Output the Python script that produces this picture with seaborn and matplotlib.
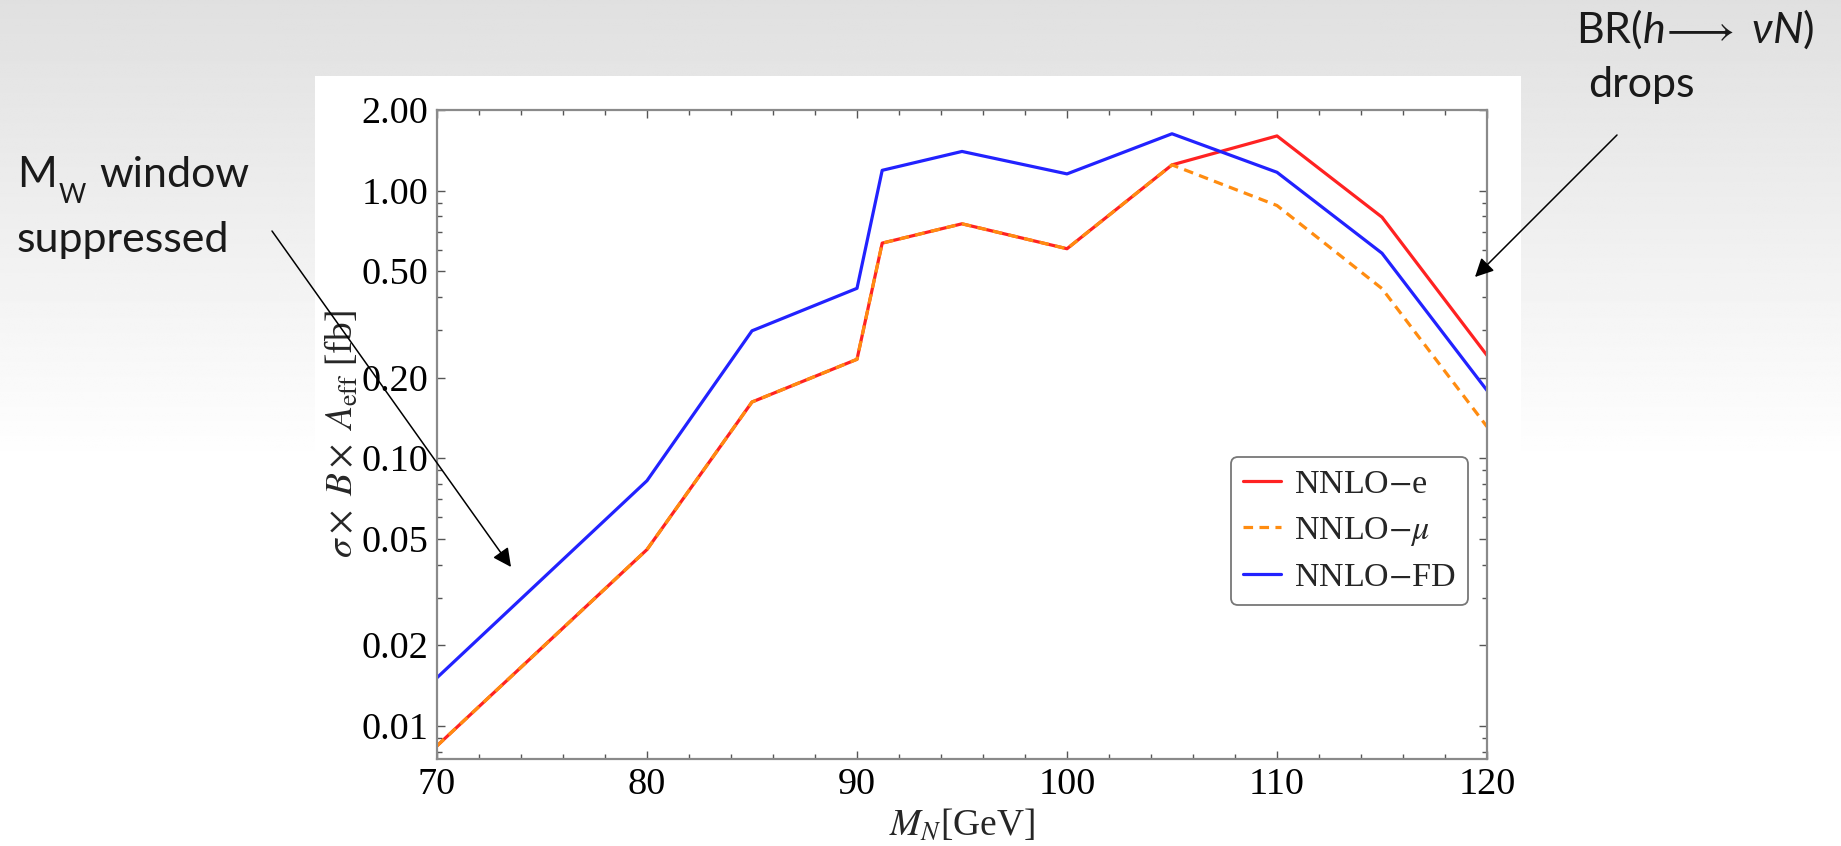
import numpy as np
import pandas as pd
import matplotlib
matplotlib.use('Agg')
import matplotlib.pyplot as plt
import matplotlib.ticker as mticker
from matplotlib.patches import Rectangle, FancyArrowPatch
import seaborn as sns

# valores (M_N en GeV, sigma x B x A_eff en fb)
masas = [70, 80, 85, 90, 91.2, 95, 100, 105, 110, 115, 120]
nnlo_e = [0.0084, 0.0455, 0.162, 0.234, 0.636, 0.751, 0.606, 1.247, 1.60, 0.795, 0.242]
nnlo_mu = [0.0084, 0.0455, 0.162, 0.234, 0.636, 0.751, 0.606, 1.247, 0.879, 0.430, 0.131]
nnlo_fd = [0.0151, 0.0823, 0.299, 0.431, 1.19, 1.40, 1.154, 1.63, 1.17, 0.583, 0.179]

canales = ['NNLO$-$e', 'NNLO$-\\mu$', 'NNLO$-$FD']
colores = ['#ff2222', '#ff8c10', '#2222ff']
yticks = [0.01, 0.02, 0.05, 0.10, 0.20, 0.50, 1.00, 2.00]
xticks = [70, 80, 90, 100, 110, 120]

df = pd.DataFrame({
    'M_N': masas * 3,
    'sigma': nnlo_e + nnlo_mu + nnlo_fd,
    'canal': [canales[0]] * len(masas) + [canales[1]] * len(masas) + [canales[2]] * len(masas),
})

sns.set_style('ticks')
plt.rcParams['font.family'] = ['Liberation Serif', 'DejaVu Serif']
plt.rcParams['mathtext.fontset'] = 'stix'
plt.rcParams['mathtext.rm'] = 'Lato'
plt.rcParams['mathtext.it'] = 'Lato:italic'
plt.rcParams['mathtext.bf'] = 'Lato:bold'

W, H = 1841, 846
fig = plt.figure(figsize=(W / 100, H / 100), dpi=100)

# fondo de la diapositiva: degradado gris -> blanco
bg = fig.add_axes([0, 0, 1, 1], zorder=-10)
grad = np.clip(np.linspace(0, 1, 400) / 0.55, 0, 1)
grad = 0.878 + (1 - 0.878) * grad
bg.imshow(np.tile(grad[:, None], (1, 10)), cmap='gray', vmin=0, vmax=1,
          aspect='auto', extent=[0, 1, 0, 1], origin='upper')
bg.add_patch(Rectangle((315 / W, 0), (1521 - 315) / W, (H - 76) / H,
                       transform=bg.transAxes, color='white', lw=0))
bg.set_xlim(0, 1)
bg.set_ylim(0, 1)
bg.axis('off')

ax = fig.add_axes([437 / W, 1 - 759 / H, (1487 - 437) / W, (759 - 110) / H])
ax.set_facecolor('white')

sns.lineplot(data=df, x='M_N', y='sigma', hue='canal', style='canal',
             hue_order=canales, style_order=canales,
             palette=dict(zip(canales, colores)),
             dashes={canales[0]: '', canales[1]: (3, 2), canales[2]: ''},
             linewidth=2.3, sort=False, estimator=None, ax=ax)

ax.set_yscale('log')
ax.set_xlim(70, 120)
ax.set_ylim(0.0075, 2.0)
ax.yaxis.set_major_locator(mticker.FixedLocator(yticks))
ax.yaxis.set_major_formatter(mticker.FormatStrFormatter('%.2f'))
ax.yaxis.set_minor_locator(mticker.LogLocator(base=10, subs=np.arange(1, 10), numticks=20))
ax.yaxis.set_minor_formatter(mticker.NullFormatter())
ax.xaxis.set_major_locator(mticker.FixedLocator(xticks))
ax.xaxis.set_minor_locator(mticker.MultipleLocator(2))

for s in ax.spines.values():
    s.set_color('#8a8a8a')
    s.set_linewidth(1.6)
ax.tick_params(which='both', direction='in', top=True, right=True,
               color='#555555', width=1, labelsize=27.5, labelcolor='black')
ax.tick_params(which='major', length=6, pad=6)
ax.tick_params(which='minor', length=3.5)

ax.set_xlabel('$M_N$[GeV]', fontsize=27, labelpad=4)
ax.set_ylabel('$\\sigma\\times\\ B\\times\\ A_{\\rm eff}$ [fb]', fontsize=27, labelpad=1)
ax.xaxis.label.set_math_fontfamily('stix')
ax.yaxis.label.set_math_fontfamily('stix')

handles, labels = ax.get_legend_handles_labels()
leg = ax.legend(handles, labels, loc='lower right', bbox_to_anchor=(0.982, 0.238),
                borderaxespad=0, fontsize=24.5, handlelength=1.1, handletextpad=0.4,
                labelspacing=0.42, borderpad=0.35, fancybox=True, framealpha=1,
                edgecolor='#777777')
leg.get_frame().set_linewidth(1.3)
for t in leg.get_texts():
    t.set_math_fontfamily('stix')

# anotaciones de la diapositiva
kw = dict(fontsize=31, family=['Lato', 'DejaVu Sans'], color='#1a1a1a',
          va='baseline', ha='left', math_fontfamily='custom')
fig.text(17 / W, (H - 187) / H, 'M', **kw)
fig.text(59 / W, (H - 203) / H, 'W', **{**kw, 'fontsize': 19})
fig.text(99 / W, (H - 187) / H, 'window', **kw)
fig.text(17 / W, (H - 252) / H, 'suppressed', **kw)
fig.text(1576 / W, (H - 43) / H, 'BR($h\\!\\longrightarrow\\ \\nu N$)', **kw)
fig.text(1588 / W, (H - 97) / H, 'drops', **kw)

flecha = dict(arrowstyle='-|>', color='black', lw=1.1, mutation_scale=28,
              shrinkA=0, shrinkB=0)
fig.add_artist(FancyArrowPatch(
    (272 / W, (H - 231) / H), (511 / W, (H - 567) / H),
    transform=fig.transFigure, **flecha))
fig.add_artist(FancyArrowPatch(
    (1617 / W, (H - 135) / H), (1475 / W, (H - 277) / H),
    transform=fig.transFigure, **flecha))

fig.savefig('out.png', dpi=100)
